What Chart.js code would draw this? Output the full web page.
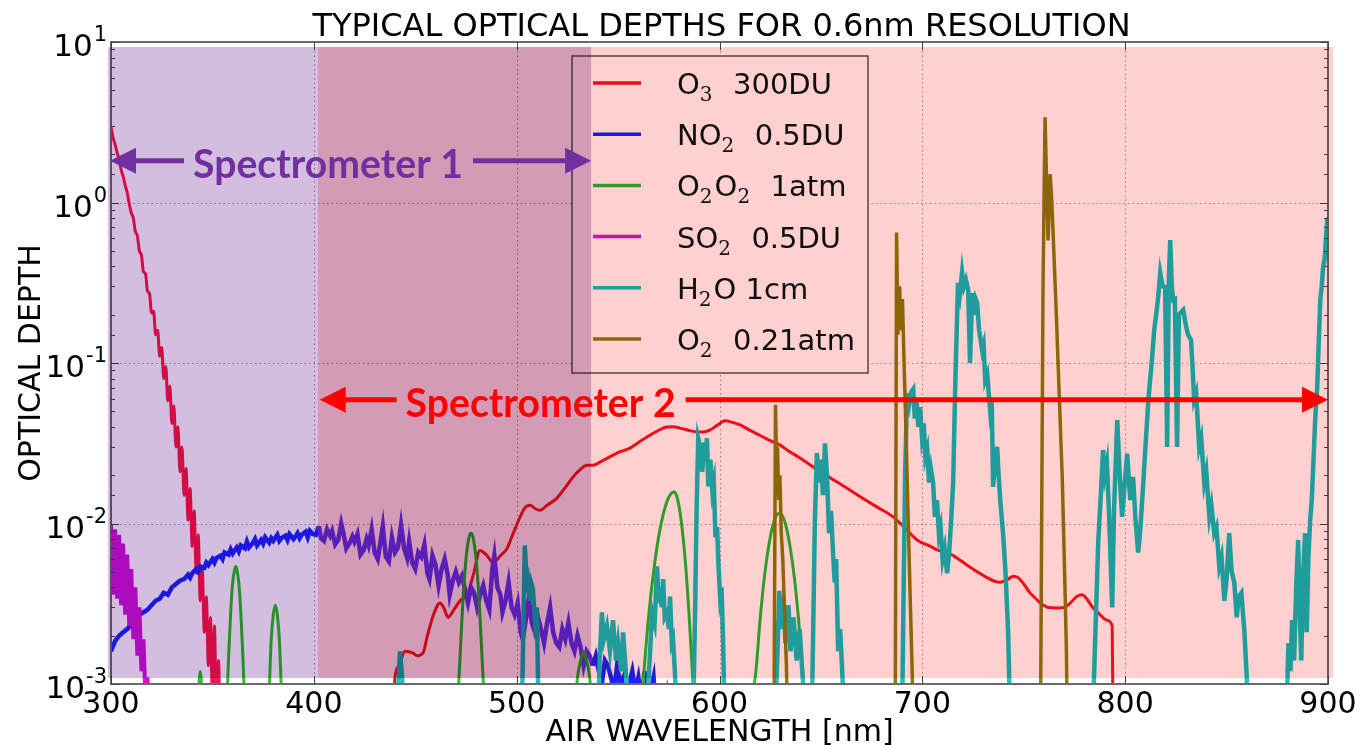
<!DOCTYPE html>
<html>
<head>
<meta charset="utf-8">
<script src="https://cdn.jsdelivr.net/npm/chart.js@4.4.0/dist/chart.umd.min.js"></script>
<style>
  html, body { margin: 0; padding: 0; background: #fff; }
  #wrap { width: 1362px; height: 745px; }
</style>
</head>
<body>
<div id="wrap"><canvas id="chart" width="1362" height="745"></canvas></div>
<script>
// axis ticks
const X_TICKS = [300, 400, 500, 600, 700, 800, 900];
const Y_DECADES = [0.001, 0.01, 0.1, 1, 10];
const Y_EXPONENTS = ["-3", "-2", "-1", "0", "1"];

// [wavelength nm, optical depth]; null = gap
const O3 = [
  [300,2.95],[301,2.55],[302,2.3],[303,2.05],[304,1.85],[305,1.6],[306,1.45],[307,1.28],[308,1.15],[309,0.98],
  [310,0.86],[311,0.8],[312,0.66],[313,0.62],[314,0.5],[315,0.47],[316,0.37],[317,0.36],[318,0.28],[319,0.27],
  [320,0.205],[321,0.21],[322,0.15],[323,0.16],[324,0.11],[325,0.125],[326,0.08],[327,0.095],[328,0.058],[329,0.072],
  [330,0.042],[331,0.054],[332,0.03],[333,0.04],[334,0.021],[335,0.03],[336,0.015],[337,0.022],[338,0.0105],[339,0.0165],
  [340,0.0072],[341,0.012],[342,0.0049],[343,0.0085],[344,0.0033],[345,0.0052],[346,0.0021],[347,0.0035],[348,0.0013],[349,0.0026],
  [350,0.0008],[351,0.0023],[352,0.0006],[353,0.0014],[354,0.0004],[355,0.0008],[356,0.0003],
  [398,null],
  [439,0.0006],[440,0.0011],[442,0.0013],[445,0.0016],[448.9,0.00156],[451,0.0015],[453.8,0.00156],[456,0.002],[459,0.0027],
  [462.2,0.0032],[464,0.003],[466.2,0.0026],[469,0.0029],[472.1,0.0033],[476,0.0037],[479,0.005],[481.9,0.0068],[485,0.0064],
  [488.4,0.0057],[492,0.0063],[495.3,0.007],[498,0.0085],[501.7,0.011],[504,0.0125],[506.6,0.013],[509,0.0124],[511.5,0.0121],
  [515,0.013],[519.9,0.0144],[524,0.0168],[527.8,0.0195],[531,0.0215],[534.7,0.0231],[537.7,0.0231],[542,0.0245],[547.5,0.0267],
  [551,0.028],[555.9,0.0295],[560,0.032],[564.3,0.0346],[569,0.0375],[574.2,0.0399],[577,0.04],[580.6,0.0393],[585,0.038],
  [589,0.0372],[592,0.0372],[595.4,0.0383],[599,0.041],[602.8,0.0436],[606,0.0428],[610.2,0.0411],[615,0.038],[621.5,0.0346],
  [625,0.0328],[629.9,0.0308],[634,0.0283],[639.7,0.0256],[646.2,0.0225],[654,0.0195],[662.9,0.0166],[670,0.0145],[678,0.0126],
  [685.6,0.011],[691,0.0095],[697.4,0.0079],[704,0.0072],[708,0.0068],[712.2,0.0066],[717,0.0061],[722.1,0.0055],[727,0.005],
  [731.9,0.0046],[735,0.0044],[738.4,0.0043],[741,0.0044],[743.5,0.0046],[745,0.0047],[747.2,0.0046],[750,0.0042],[753,0.0037],
  [756,0.0034],[758.1,0.0032],[762,0.003],[766.5,0.00298],[770,0.003],[773,0.0032],[776,0.0035],[778.8,0.0036],[781,0.0034],
  [784,0.003],[787.7,0.0027],[791,0.0025],[793.6,0.0023],[794.1,0.0004]
];

const NO2 = [
  [300,0.0016],[302,0.00185],[304,0.002],[306,0.0021],[308,0.0022],[310,0.00235],[312,0.0024],[314,0.0027],[316,0.0028],[318,0.0029],
  [320,0.0031],[322,0.0033],[324,0.0034],[326,0.0037],[328,0.0036],[330,0.004],[332,0.0042],[334,0.0044],[336,0.0045],[338,0.0048],
  [339,0.0046],[340,0.0049],[342,0.0052],[343,0.005],[344,0.0054],[346,0.0053],[347,0.0057],[348,0.0055],[350,0.006],[351,0.0057],
  [352,0.0061],[354,0.0063],[355,0.006],[356,0.0066],[358,0.0064],[359,0.0069],[360,0.0065],[362,0.0071],[363,0.0067],[364,0.0073],
  [366,0.007],[367,0.0077],[368,0.0071],[370,0.0076],[371,0.008],[372,0.0073],[374,0.0079],[375,0.0075],[376,0.0082],[378,0.0076],
  [379,0.0081],[380,0.0078],[382,0.0085],[383,0.0078],[384,0.0081],[386,0.0084],[387,0.0079],[388,0.0086],[390,0.008],[391,0.0083],
  [392,0.0087],[393,0.0081],[394,0.0085],[396,0.0089],[397,0.0082],[398,0.009],[399.5,0.0086],[401,0.0085],[402.5,0.0096],[403.5,0.0081],
  [405,0.0078],[406.5,0.0092],[408,0.0084],[409,0.009],[410.5,0.0074],[412,0.0079],[413.5,0.01],[414.5,0.0088],[416,0.007],[417.5,0.0075],
  [419,0.0083],[420,0.0077],[421.5,0.0086],[423,0.0064],[424.5,0.0068],[426,0.008],[427,0.0073],[428.5,0.0092],[430,0.0066],[431.5,0.006],
  [432.5,0.0072],[434,0.0096],[435.5,0.0062],[437,0.0058],[438.5,0.0082],[440,0.0066],[441.5,0.0071],[443,0.0098],[444.5,0.007],[446,0.0061],
  [447,0.0077],[448.5,0.0057],[450,0.0052],[451.5,0.0066],[453,0.0062],[454.5,0.0074],[456,0.0049],[457,0.0045],[458.5,0.0063],[460,0.0055],
  [461.5,0.0041],[463,0.0052],[464.5,0.006],[466,0.0048],[467,0.0036],[468.5,0.0044],[470,0.005],[471.5,0.0043],[473,0.0047],[474.5,0.0039],
  [476,0.0032],[477.5,0.004],[479,0.0037],[480.5,0.003],[482,0.0036],[483.5,0.0041],[485,0.0033],[486.5,0.0029],[488,0.0052],[489,0.0063],
  [490.5,0.004],[492,0.0036],[493,0.0028],[494.5,0.0033],[496,0.0043],[497.5,0.003],[499,0.0027],[500.5,0.0032],[502,0.0021],[503,0.0019],
  [504.5,0.0025],[506,0.0034],[507.5,0.0024],[509,0.0021],[510.5,0.0026],[512,0.0022],[513.5,0.0018],[515,0.0024],[516.5,0.003],[518,0.0021],
  [519.5,0.0018],[521,0.0017],[522.5,0.0022],[524,0.0019],[525.5,0.0024],[527,0.0018],[528.5,0.0016],[530,0.002],[531.5,0.0017],[533,0.0013],
  [534.5,0.0016],[536,0.0015],[537.5,0.0013],[539,0.0015],[540.5,0.0012],[542,0.001],[543.5,0.0014],[545,0.0013],[546.5,0.0011],[548,0.0009],
  [549.5,0.0013],[551,0.001],[552.5,0.0011],[554,0.0008],[555.5,0.001],[557,0.0012],[558.5,0.0009],[560,0.0011],[561.5,0.0008],[563,0.0012],
  [564.5,0.0007],[566,0.0009],[567.5,0.0011],[569,0.0006],[570.5,0.001],[572,0.0005],[574,0.0008],[576,0.0004],[578,0.0003]
];

const O2O2 = [
  [342.5,0.0006],[344,0.0012],[345.5,0.0006],[350,null],
  [357,0.0007],[358,0.0015],[359,0.0028],[360,0.0043],[361,0.0052],[361.5,0.0054],[362,0.0052],[363,0.0043],[364,0.0028],[365,0.0015],[366,0.0007],[370,null],
  [378,0.0009],[379,0.0019],[380,0.0027],[381,0.0031],[382,0.0027],[383,0.0019],[384,0.0009],[384.5,0.0006],[420,null],
  [471,0.0008],[472,0.0014],[473.5,0.0033],[475,0.006],[476.5,0.0082],[477.5,0.0087],[478.5,0.0082],[480,0.006],[481.5,0.0033],[483,0.0014],[484,0.0008],[500,null],
  [529,0.0008],[530,0.0011],[531.5,0.0014],[533,0.00158],[534.5,0.0014],[536,0.0011],[537,0.0008],[550,null],
  [562,0.0009],[565,0.0026],[568,0.0056],[571,0.0097],[574,0.0136],[576,0.0153],[577.5,0.0157],[579,0.0147],[581,0.0107],[583,0.0061],[585,0.0027],[586.5,0.00126],[587.5,0.0007],[600,null],
  [616,0.0008],[618,0.00122],[620,0.0025],[622,0.0045],[624,0.0069],[626,0.0094],[628,0.0112],[629.5,0.0116],[631,0.0112],[633,0.0094],[635,0.0069],[637,0.0045],[639,0.0025],[641,0.00122],[642,0.0008]
];

const SO2 = [
  [300,0.0098],[301,0.0036],[302,0.0092],[303,0.0034],[304,0.0085],[305,0.0031],[306,0.0075],[307,0.0027],[308,0.0064],[309,0.0023],
  [310,0.0052],[311,0.0019],[312,0.004],[313,0.0015],[314,0.003],[315,0.0012],[316,0.0019],[317,0.0008],[318,0.0011],[319,0.0005],
  [320,0.0006],[321,0.0003]
];

const H2O = [
  [441,0.0006],[442.5,0.0016],[443.5,0.0011],[444.5,0.0006],[470,null],
  [502.5,0.0006],[504,0.0073],[505,0.0042],[505.6,0.0045],[506.6,0.0033],[507.3,0.0042],[508,0.0039],[509,0.0025],[510,0.003],[510.8,0.0006],[520,null],
  [540,0.0006],[541,0.0015],[542,0.0028],[543,0.0019],[544.5,0.0023],[546,0.0016],[547.5,0.0025],[549,0.0014],[550,0.0018],[551.5,0.0012],[552.5,0.0021],[554,0.0011],[555,0.0006],[560,null],
  [564,0.0006],[566.8,0.0028],[568,0.0024],[569.2,0.0054],[570,0.0032],[570.7,0.004],[571.5,0.003],[572.2,0.0045],[573,0.0026],[574.2,0.0028],[575,0.0022],[575.6,0.0035],[576.5,0.0018],[577.1,0.0019],[578,0.0012],[579,0.0006],[583,null],
  [587,0.0006],[588,0.003],[588.7,0.012],[589.5,0.034],[590.5,0.03],[591.5,0.021],[592.5,0.032],[593.2,0.026],[593.8,0.034],[594.5,0.017],[595.5,0.025],[596.5,0.016],[597.2,0.018],[598,0.0082],[598.8,0.0095],[599.5,0.0055],[600.3,0.0035],[601,0.004],[601.8,0.0018],[602.5,0.0006],[615,null],
  [627.5,0.0006],[628.5,0.0015],[629.5,0.0038],[630.5,0.0022],[631.5,0.0035],[632.5,0.0018],[634,0.0031],[635,0.0016],[636.5,0.0026],[638,0.0014],[639.5,0.0022],[641,0.0011],[642.5,0.0006],[644,null],
  [645.5,0.0006],[647,0.01],[648,0.0275],[649,0.018],[650,0.025],[651,0.015],[652,0.0316],[653,0.02],[654,0.0087],[655,0.012],[656,0.0065],[656.8,0.0043],[657.5,0.006],[658.5,0.0016],[659.5,0.0022],[660.5,0.0012],[661.5,0.0006],[675,null],
  [690,0.0006],[690.8,0.004],[691.5,0.02],[692.5,0.065],[693.5,0.055],[694.5,0.066],[695.5,0.069],[696.3,0.045],[697.2,0.058],[698,0.04],
  [698.9,0.053],[699.8,0.035],[700.7,0.042],[701.5,0.026],[702.4,0.029],[703.3,0.018],[704.2,0.022],[705.3,0.018],[706.2,0.011],[707.2,0.014],
  [708.2,0.0085],[709,0.0095],[710,0.006],[711,0.007],[712.2,0.0049],[713.2,0.0065],[714.3,0.011],[715.2,0.018],[716.3,0.08],[717.6,0.316],
  [718.5,0.27],[719.6,0.369],[720.5,0.3],[721.5,0.33],[722.6,0.285],[723.5,0.1],[724.6,0.273],[725.5,0.2],[726.3,0.25],[727,0.237],
  [728,0.16],[729.5,0.12],[730.2,0.13],[731,0.078],[732,0.085],[733.4,0.051],[734.2,0.06],[734.9,0.0169],[735.8,0.024],[736.9,0.03],
  [737.6,0.02],[738.4,0.014],[739.8,0.0087],[741,0.005],[742.3,0.0021],[743.3,0.0006],[760,null],
  [784,0.0006],[786.7,0.0076],[788,0.015],[789.1,0.0287],[790,0.02],[791,0.0238],[792,0.012],[793.6,0.003],[794.5,0.012],[796.1,0.0441],
  [797.3,0.02],[798.5,0.011],[799.8,0.018],[801,0.0272],[802.5,0.014],[803.9,0.0195],[805,0.011],[806.4,0.0066],[807.4,0.009],[808.4,0.014],
  [810,0.03],[811.5,0.06],[813.3,0.109],[814.3,0.16],[815.3,0.2],[816.3,0.26],[817.3,0.364],[818.5,0.3],[819.7,0.298],[820.7,0.03],
  [821.5,0.32],[822.2,0.583],[823,0.3],[823.7,0.247],[824.5,0.25],[825.6,0.03],[826.5,0.2],[828.6,0.214],[830,0.17],[831,0.15],
  [832.5,0.139],[833.3,0.09],[834,0.059],[835,0.065],[836.5,0.03],[837.5,0.034],[839,0.0179],[840,0.021],[841.5,0.011],[842.5,0.013],
  [843.9,0.0087],[845,0.0095],[846.4,0.0054],[847.5,0.0062],[848.9,0.0033],[850,0.0045],[851.3,0.0087],[852.5,0.005],[853.8,0.0043],[855,0.0026],
  [856,0.0035],[857.3,0.0037],[858.8,0.0021],[859.8,0.0012],[860.8,0.0006],[870,null],
  [879.5,0.0006],[880.5,0.0018],[881.5,0.0012],[882.3,0.0025],[883.3,0.0014],[884.3,0.004],[885.3,0.0079],[886,0.003],[886.8,0.0014],[887.8,0.005],
  [888.7,0.0087],[889.5,0.0021],[890.3,0.006],[891.2,0.0105],[892,0.014],[892.7,0.0225],[893.7,0.045],[894.7,0.0708],[895.3,0.12],[896.2,0.247],
  [896.9,0.3],[897.6,0.396],[898.4,0.45],[899,0.6],[899.6,0.778],[900,0.8]
];

const O2 = [
  [626.8,0.0004],[627.6,0.055],[628.2,0.02],[628.6,0.03],[629.2,0.014],[629.8,0.02],[630.4,0.009],[631.2,0.006],[632,0.003],[633,0.0013],[633.6,0.0005],[660,null],
  [686.6,0.0004],[687.3,0.65],[688,0.15],[688.8,0.3],[689.5,0.16],[690.2,0.25],[691,0.1],[692,0.035],[693,0.011],[694,0.0035],[695,0.0012],[695.6,0.0004],[730,null],
  [758.2,0.0004],[759.5,0.3],[760.5,3.4],[761.3,1.3],[762,0.58],[763,1.5],[763.7,1.1],[764.5,0.63],[766,0.21],[767.5,0.063],[769,0.019],[770,0.0059],[771,0.0017],[771.6,0.0004]
];

const SERIES_LABELS = ["O₃  300DU", "NO₂  0.5DU", "O₂O₂  1atm", "SO₂  0.5DU", "H₂O 1cm", "O₂  0.21atm"];
const SERIES_DATA = [O3, NO2, O2O2, SO2, H2O, O2];

// shaded spectrometer ranges (nm) and their arrows
const SPEC_BANDS = [
  { from: 298.5, to: 536.7, color: "#d4bee0" },
  { from: 402.1, to: 902.6, color: "#ffd0d0" },
];
const BAND_OD = [0.00109, 9.3];
const SPEC_ARROWS = [
  { label: "Spectrometer 1", from: 299.5, to: 536.7, od: 1.82, labelNm: 407, color: "#7030a0" },
  { label: "Spectrometer 2", from: 402.9, to: 900, od: 0.059, labelNm: 511.8, color: "#ff0000" },
];

const STYLE = [
  { color: "#ee1020", width: 3, smooth: true, under1: "#ff1050" },
  { color: "#2020ff", width: 4.5, under2: "#6a30ff" },
  { color: "#30c030", width: 3, smooth: true },
  { color: "#d010d8", width: 4 },
  { color: "#20c0c0", width: 4.5 },
  { color: "#8c7c0a", width: 3.5 },
];

const SUBS = "₀₁₂₃₄₅₆₇₈₉";
const FONT = '"DejaVu Sans", sans-serif';

function drawRich(ctx, text, x, y, size) {
  let cx = x;
  for (const ch of text) {
    const d = SUBS.indexOf(ch);
    if (d >= 0) {
      ctx.font = Math.round(size * 0.7) + 'px "DejaVu Serif", serif';
      ctx.fillText(String(d), cx, y + size * 0.24);
      cx += ctx.measureText(String(d)).width + 2;
    } else {
      ctx.font = size + "px " + FONT;
      ctx.fillText(ch, cx, y);
      cx += ctx.measureText(ch).width;
    }
  }
}

function arrowHead(ctx, tipX, y, dir, len, half) {
  ctx.beginPath();
  ctx.moveTo(tipX, y);
  ctx.lineTo(tipX - dir * len, y - half);
  ctx.lineTo(tipX - dir * len, y + half);
  ctx.closePath();
  ctx.fill();
}

const deco = {
  id: "deco",
  beforeDraw(chart) {
    const { ctx, width, height } = chart;
    ctx.save();
    ctx.fillStyle = "#fff";
    ctx.fillRect(0, 0, width, height);
    ctx.restore();
  },
  beforeDatasetsDraw(chart) {
    const { ctx, chartArea: a, scales } = chart;
    ctx.save();
    ctx.strokeStyle = "rgba(0,0,0,0.4)";
    ctx.lineWidth = 1;
    ctx.setLineDash([1.5, 3]);
    ctx.beginPath();
    X_TICKS.slice(1, -1).forEach((v) => {
      const px = Math.round(scales.x.getPixelForValue(v)) + 0.5;
      ctx.moveTo(px, a.top); ctx.lineTo(px, a.bottom);
    });
    Y_DECADES.slice(1, -1).forEach((v) => {
      const py = Math.round(scales.y.getPixelForValue(v)) + 0.5;
      ctx.moveTo(a.left, py); ctx.lineTo(a.right, py);
    });
    ctx.stroke();
    ctx.restore();
  },
  afterDatasetsDraw(chart) {
    const { ctx, chartArea: a, scales } = chart;
    const xs = scales.x, ys = scales.y;
    ctx.save();

    // frame and tick marks
    ctx.strokeStyle = "#6a6a6a";
    ctx.lineWidth = 2;
    ctx.strokeRect(a.left, a.top, a.right - a.left, a.bottom - a.top);
    ctx.lineWidth = 1;
    ctx.strokeStyle = "#444";
    ctx.beginPath();
    ys.ticks.forEach((t) => {
      const l = Math.log10(t.value);
      const major = Math.abs(l - Math.round(l)) < 1e-6;
      const len = major ? 8 : 4;
      const py = Math.round(ys.getPixelForValue(t.value)) + 0.5;
      ctx.moveTo(a.left, py); ctx.lineTo(a.left + len, py);
      ctx.moveTo(a.right, py); ctx.lineTo(a.right - len, py);
    });
    X_TICKS.forEach((v) => {
      const px = Math.round(xs.getPixelForValue(v)) + 0.5;
      ctx.moveTo(px, a.bottom); ctx.lineTo(px, a.bottom - 8);
      ctx.moveTo(px, a.top); ctx.lineTo(px, a.top + 8);
    });
    ctx.stroke();

    // legend box
    const lg = { x: 572, y: 56, w: 296, h: 317, row0: 83, step: 51.2 };
    ctx.fillStyle = "#fff";
    ctx.fillRect(lg.x, lg.y, lg.w, lg.h);
    ctx.strokeStyle = "#555";
    ctx.lineWidth = 1.5;
    ctx.strokeRect(lg.x, lg.y, lg.w, lg.h);
    SERIES_LABELS.forEach((lab, i) => {
      const y = lg.row0 + i * lg.step;
      ctx.strokeStyle = STYLE[i].color;
      ctx.lineWidth = 3.5;
      ctx.beginPath(); ctx.moveTo(593, y); ctx.lineTo(641, y); ctx.stroke();
      ctx.fillStyle = "#111";
      ctx.textAlign = "left";
      ctx.textBaseline = "alphabetic";
      drawRich(ctx, lab, 677, y + 11, 29);
    });

    // shaded spectrometer ranges (multiplied on top, like a tinted overlay)
    ctx.globalCompositeOperation = "multiply";
    const yTop = ys.getPixelForValue(BAND_OD[1]);
    const yBot = ys.getPixelForValue(BAND_OD[0]);
    SPEC_BANDS.forEach((b) => {
      const x1 = xs.getPixelForValue(b.from), x2 = xs.getPixelForValue(b.to);
      ctx.fillStyle = b.color;
      ctx.fillRect(x1, yTop, x2 - x1, yBot - yTop);
    });
    ctx.globalCompositeOperation = "source-over";

    // tick labels
    ctx.fillStyle = "#000";
    ctx.textAlign = "center";
    ctx.textBaseline = "alphabetic";
    ctx.font = "30px " + FONT;
    X_TICKS.forEach((v) => {
      ctx.fillText(String(v), xs.getPixelForValue(v), a.bottom + 29);
    });
    Y_DECADES.forEach((v, i) => {
      const py = ys.getPixelForValue(v);
      ctx.textAlign = "right";
      ctx.font = "21px " + FONT;
      const ex = Y_EXPONENTS[i];
      ctx.fillText(ex, 107, py - 1);
      const ew = ctx.measureText(ex).width;
      ctx.font = "31px " + FONT;
      ctx.fillText("10", 107 - ew - 1, py + 14);
    });

    // titles
    ctx.textAlign = "center";
    ctx.font = "32px " + FONT;
    ctx.fillText("TYPICAL OPTICAL DEPTHS FOR 0.6nm RESOLUTION", (a.left + a.right) / 2 + 2, 36);
    ctx.font = "30px " + FONT;
    ctx.fillText("AIR WAVELENGTH [nm]", (a.left + a.right) / 2, 741);
    ctx.save();
    ctx.translate(40, (a.top + a.bottom) / 2);
    ctx.rotate(-Math.PI / 2);
    ctx.fillText("OPTICAL DEPTH", 0, 0);
    ctx.restore();

    // spectrometer arrows
    SPEC_ARROWS.forEach((s) => {
      const x1 = xs.getPixelForValue(s.from), x2 = xs.getPixelForValue(s.to);
      const y = ys.getPixelForValue(s.od), cx = xs.getPixelForValue(s.labelNm);
      ctx.font = "bold 40px Lato, sans-serif";
      const w = Math.min(ctx.measureText(s.label).width, 270);
      ctx.fillStyle = s.color;
      ctx.strokeStyle = s.color;
      ctx.textAlign = "center";
      ctx.fillText(s.label, cx, y + 17, 270);
      ctx.lineWidth = 5;
      ctx.beginPath();
      ctx.moveTo(x1 + 20, y); ctx.lineTo(cx - w / 2 - 9, y);
      ctx.moveTo(cx + w / 2 + 10, y); ctx.lineTo(x2 - 20, y);
      ctx.stroke();
      arrowHead(ctx, x1, y, -1, 26, 13);
      arrowHead(ctx, x2, y, 1, 26, 13);
    });

    ctx.restore();
  },
};

const datasets = SERIES_DATA.map((series, i) => {
  const st = STYLE[i];
  return {
    label: SERIES_LABELS[i],
    data: series.map(([x, y]) => ({ x, y })),
    borderColor: st.color,
    borderWidth: st.width,
    pointRadius: 0,
    fill: false,
    spanGaps: false,
    clip: 0,
    cubicInterpolationMode: st.smooth ? "monotone" : "default",
    tension: 0,
    order: SERIES_DATA.length - i,
    segment: {
      borderColor: (c) => {
        const x = c.p0.parsed.x;
        if (st.under1 && x < 402) return st.under1;
        if (st.under2 && x >= 402 && x < 537) return st.under2;
        return undefined;
      },
    },
  };
});

new Chart(document.getElementById("chart"), {
  type: "line",
  data: { datasets },
  options: {
    responsive: false,
    animation: false,
    events: [],
    layout: { padding: { left: 111, right: 34, top: 42, bottom: 61 } },
    plugins: { legend: { display: false }, title: { display: false }, tooltip: { enabled: false } },
    scales: {
      x: {
        type: "linear", min: 300, max: 900,
        ticks: { display: false, stepSize: 100 },
        grid: { display: false, drawTicks: false },
        border: { display: false },
        afterFit(s) { s.height = 0; },
      },
      y: {
        type: "logarithmic", min: 0.001, max: 10,
        ticks: { display: false },
        grid: { display: false, drawTicks: false },
        border: { display: false },
        afterFit(s) { s.width = 0; },
      },
    },
  },
  plugins: [deco],
});
</script>
</body>
</html>
